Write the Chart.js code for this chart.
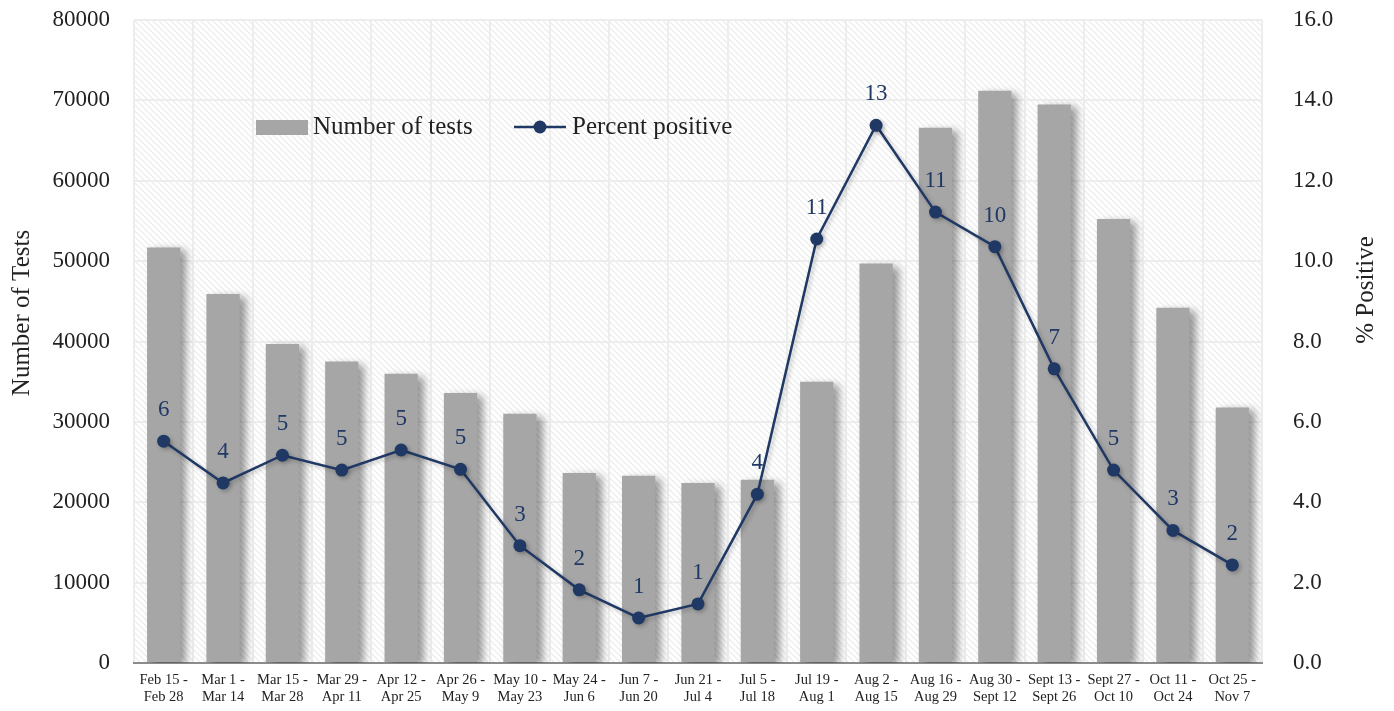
<!DOCTYPE html>
<html>
<head>
<meta charset="utf-8">
<script src="https://cdn.jsdelivr.net/npm/chart.js@4"></script>
<style>
  html, body { margin: 0; padding: 0; background: #fff; }
  #wrap { width: 1394px; height: 711px; }
</style>
</head>
<body>
<div id="wrap"><canvas id="testsChart" width="1394" height="711"></canvas></div>
<script>
const periods = [
  ["Feb 15 -", "Feb 28"], ["Mar 1 -", "Mar 14"], ["Mar 15 -", "Mar 28"], ["Mar 29 -", "Apr 11"],
  ["Apr 12 -", "Apr 25"], ["Apr 26 -", "May 9"], ["May 10 -", "May 23"], ["May 24 -", "Jun 6"],
  ["Jun 7 -", "Jun 20"], ["Jun 21 -", "Jul 4"], ["Jul 5 -", "Jul 18"], ["Jul 19 -", "Aug 1"],
  ["Aug 2 -", "Aug 15"], ["Aug 16 -", "Aug 29"], ["Aug 30 -", "Sept 12"], ["Sept 13 -", "Sept 26"],
  ["Sept 27 -", "Oct 10"], ["Oct 11 -", "Oct 24"], ["Oct 25 -", "Nov 7"]
];
const numberOfTests = [51700, 45900, 39700, 37500, 36000, 33600, 31000, 23650, 23300, 22400,
  22800, 35000, 49700, 66600, 71200, 69500, 55250, 44200, 31800];
const percentPositive = [5.52, 4.48, 5.17, 4.80, 5.30, 4.82, 2.92, 1.82, 1.12, 1.47,
  4.20, 10.55, 13.38, 11.22, 10.36, 7.32, 4.80, 3.30, 2.44];
const pointLabels = [6, 4, 5, 5, 5, 5, 3, 2, 1, 1, 4, 11, 13, 11, 10, 7, 5, 3, 2];

const FONT = "'Liberation Serif', 'DejaVu Serif', serif";
const NAVY = "#1f3864";
const BAR_GREY = "#a6a6a6";
const TEXT = "#222";

// hatched background inside the plot area
const hatchBackground = {
  id: "hatchBackground",
  beforeDraw(chart) {
    const { ctx, chartArea: a } = chart;
    const tile = document.createElement("canvas");
    tile.width = 6; tile.height = 6;
    const t = tile.getContext("2d");
    t.strokeStyle = "#ebebeb";
    t.lineWidth = 1.2;
    t.beginPath();
    t.moveTo(0, 0); t.lineTo(6, 6);
    t.moveTo(-3, 3); t.lineTo(3, 9);
    t.moveTo(3, -3); t.lineTo(9, 3);
    t.stroke();
    ctx.save();
    ctx.fillStyle = ctx.createPattern(tile, "repeat");
    ctx.fillRect(a.left, a.top, a.right - a.left, a.bottom - a.top);
    ctx.restore();
  }
};

// soft shadow behind the bars and the markers
const shadows = {
  id: "shadows",
  beforeDatasetDraw(chart, args) {
    const ctx = chart.ctx;
    ctx.save();
    if (args.index === 0) {
      ctx.shadowColor = "rgba(0,0,0,0.4)";
      ctx.shadowBlur = 8;
      ctx.shadowOffsetX = 6;
      ctx.shadowOffsetY = 3;
    } else {
      ctx.shadowColor = "rgba(0,0,0,0.25)";
      ctx.shadowBlur = 4;
      ctx.shadowOffsetX = 2;
      ctx.shadowOffsetY = 2;
    }
  },
  afterDatasetDraw(chart) {
    chart.ctx.restore();
  }
};

// value labels above the line points
const pointValueLabels = {
  id: "pointValueLabels",
  afterDatasetsDraw(chart) {
    const ctx = chart.ctx;
    const meta = chart.getDatasetMeta(1);
    ctx.save();
    ctx.fillStyle = NAVY;
    ctx.font = "23px " + FONT;
    ctx.textAlign = "center";
    ctx.textBaseline = "middle";
    meta.data.forEach((pt, i) => {
      ctx.fillText(String(pointLabels[i]), pt.x, pt.y - 31);
    });
    ctx.restore();
  }
};

// legend inside the plot area and both axis titles (read bottom to top)
const legendAndTitles = {
  id: "legendAndTitles",
  afterDraw(chart) {
    const ctx = chart.ctx;
    const ds = chart.data.datasets;
    const y = 127;
    ctx.save();
    ctx.font = "25px " + FONT;
    ctx.textBaseline = "middle";
    ctx.fillStyle = BAR_GREY;
    ctx.fillRect(256, y - 7, 52, 15);
    ctx.fillStyle = TEXT;
    ctx.fillText(ds[0].label, 313, y);
    ctx.strokeStyle = NAVY;
    ctx.lineWidth = 2.5;
    ctx.beginPath();
    ctx.moveTo(514, y); ctx.lineTo(566, y);
    ctx.stroke();
    ctx.fillStyle = NAVY;
    ctx.beginPath();
    ctx.arc(540, y, 6.5, 0, Math.PI * 2);
    ctx.fill();
    ctx.fillStyle = TEXT;
    ctx.fillText(ds[1].label, 572, y);

    ctx.font = "25px " + FONT;
    ctx.textAlign = "center";
    ctx.translate(22, 313);
    ctx.rotate(-Math.PI / 2);
    ctx.fillText("Number of Tests", 0, 0);
    ctx.rotate(Math.PI / 2);
    ctx.translate(1366 - 22, 290 - 313);
    ctx.rotate(-Math.PI / 2);
    ctx.fillText("% Positive", 0, 0);
    ctx.restore();
  }
};

const ctx = document.getElementById("testsChart").getContext("2d");

new Chart(ctx, {
  type: "bar",
  data: {
    labels: periods,
    datasets: [
      {
        type: "bar",
        label: "Number of tests",
        data: numberOfTests,
        backgroundColor: BAR_GREY,
        barPercentage: 0.56,
        categoryPercentage: 1,
        yAxisID: "y",
        order: 1
      },
      {
        type: "line",
        label: "Percent positive",
        data: percentPositive,
        borderColor: NAVY,
        backgroundColor: NAVY,
        borderWidth: 2.5,
        pointRadius: 6.5,
        pointBackgroundColor: NAVY,
        pointBorderWidth: 0,
        tension: 0,
        yAxisID: "y1",
        order: 0
      }
    ]
  },
  options: {
    responsive: false,
    animation: false,
    layout: { padding: { top: 20, left: 0, right: 0, bottom: 0 } },
    plugins: {
      legend: { display: false },
      tooltip: { enabled: false }
    },
    scales: {
      x: {
        grid: { color: "#ededed", lineWidth: 2, offset: true, drawTicks: false },
        border: { color: "#8c8c8c", width: 2 },
        ticks: {
          color: TEXT,
          font: { family: FONT, size: 14.5 },
          maxRotation: 0,
          autoSkip: false,
          padding: 8
        },
        afterFit(scale) { scale.height = 48; }
      },
      y: {
        position: "left",
        min: 0,
        max: 80000,
        grid: { color: "#ededed", lineWidth: 2, drawTicks: false },
        border: { display: false },
        ticks: {
          stepSize: 10000,
          color: TEXT,
          font: { family: FONT, size: 23 },
          padding: 24,
          callback: v => String(v)
        },
        afterFit(scale) { scale.width = 134; scale.paddingTop = 0; }
      },
      y1: {
        position: "right",
        min: 0,
        max: 16,
        grid: { display: false },
        border: { display: false },
        ticks: {
          stepSize: 2,
          color: TEXT,
          font: { family: FONT, size: 23 },
          padding: 23,
          callback: v => v.toFixed(1)
        },
        afterFit(scale) { scale.width = 132; scale.paddingTop = 0; }
      }
    }
  },
  plugins: [hatchBackground, shadows, pointValueLabels, legendAndTitles]
});
</script>
</body>
</html>
